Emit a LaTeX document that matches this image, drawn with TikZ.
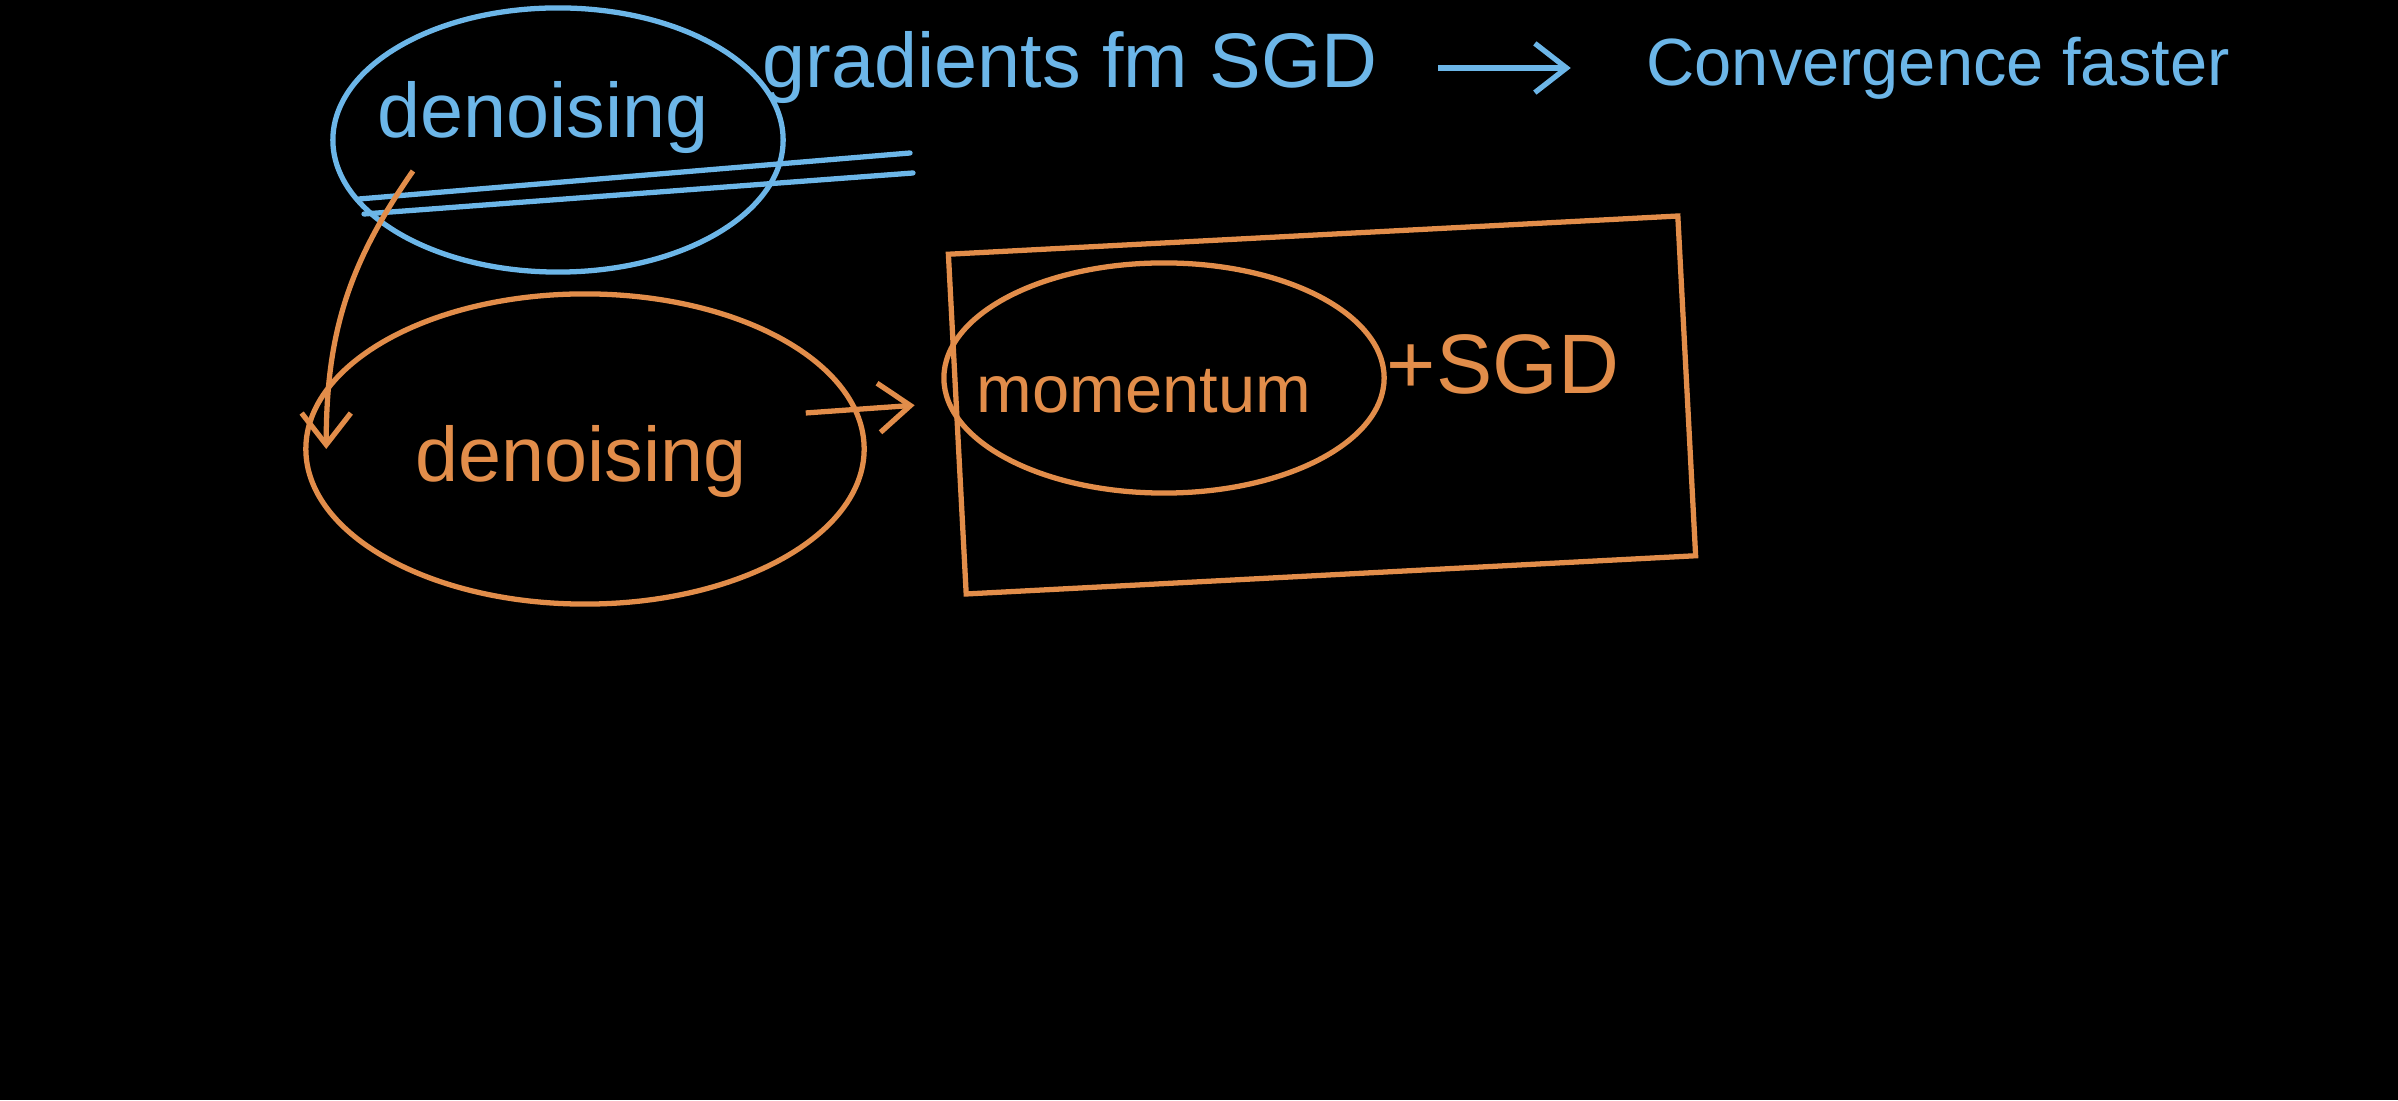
\documentclass[tikz,border=0pt]{standalone}
\usepackage{fontspec}
\setmainfont{Liberation Sans}
\usepackage{tikz}
\usetikzlibrary{arrows.meta,shapes.geometric,calc}
\definecolor{inkblue}{RGB}{108,182,232}
\definecolor{inkorange}{RGB}{226,141,74}

\begin{document}
\begin{tikzpicture}[x=0.01cm,y=0.01cm]
            \fill[black] (0,0) rectangle (2398,1100);
            \useasboundingbox (0,0) rectangle (2398,1100);

            \begin{scope}[every node/.style={ellipse,line width=1.5pt}]
                \node[draw=inkblue,minimum width=4.5cm,minimum height=2.64cm] (ringA) at (558,960) {};
                \node[draw=inkorange,minimum width=5.58cm,minimum height=3.1cm] (ringB) at (585,651) {};
                \node[draw=inkorange,minimum width=4.4cm,minimum height=2.3cm] (ringC) at (1164,722) {};
            \end{scope}
            \node[draw=inkorange,line width=1.5pt,rotate=3,minimum width=7.3cm,minimum height=3.4cm] (box) at (1322,695) {};

            \begin{scope}[every node/.style={anchor=base,inner sep=0pt,font=\fontsize{22}{26}\selectfont}]
                \node[text=inkblue] (wordA) at (543,962) {denoising};
                \node[text=inkblue] (grad) at (1070,1012) {gradients fm SGD};
                \node[text=inkblue,font=\fontsize{19}{23}\selectfont] (conv) at (1938,1014) {Convergence faster};
                \node[text=inkorange] (wordB) at (581,618) {denoising};
                \node[text=inkorange,font=\fontsize{19}{23}\selectfont] (wordC) at (1144,687) {momentum};
                \node[text=inkorange,font=\fontsize{24}{28}\selectfont] (sgd) at (1503,706) {+SGD};
            \end{scope}

            % double underline
            \draw[inkblue,line width=1.5pt,line cap=round] (359,901) -- (910,947);
            \draw[inkblue,line width=1.5pt,line cap=round] (364,886) -- (913,927);

            \coordinate (bendstart) at (413,929);

            \begin{scope}[>={Straight Barb[length=9pt,width=14pt]},
                          every edge/.style={draw,line width=1.5pt}]
                \path [->,inkblue] ([xshift=0.6cm]grad.east) edge ($(grad.east -| conv.west)+(-75,0)$);
                \path [->,inkorange] (bendstart) edge[out=235,in=90] ([xshift=0.23cm]ringB.west);
                \path [->,inkorange] ([xshift=-0.61cm,yshift=0.36cm]ringB.east) edge ([xshift=-0.4cm,yshift=0.19cm]box.west);
            \end{scope}
\end{tikzpicture}
\end{document}
